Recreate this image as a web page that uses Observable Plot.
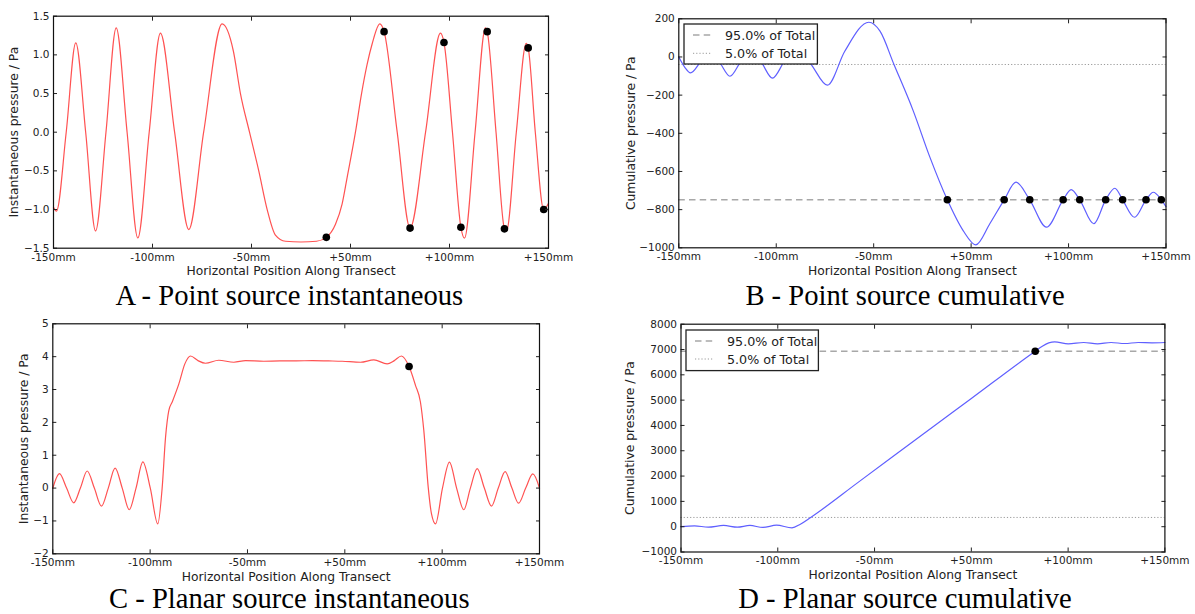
<!DOCTYPE html>
<html><head><meta charset="utf-8">
<script src="https://cdn.jsdelivr.net/npm/d3@7"></script>
<script src="https://cdn.jsdelivr.net/npm/@observablehq/plot@0.6"></script>
<style>
body{margin:0;background:#fff;}
#root{position:relative;width:1195px;height:614px;overflow:hidden;background:#fff;}
#root > svg{position:absolute;}
</style></head><body><div id="root"></div>
<script>
// ---- shared axis data ----
const xTicks = [-150, -90, -30, 30, 90, 150];
const xTickLabels = ["-150mm", "-100mm", "-50mm", "+50mm", "+100mm", "+150mm"];
const xTitle = "Horizontal Position Along Transect";
const captions = ["A - Point source instantaneous", "B - Point source cumulative", "C - Planar source instantaneous", "D - Planar source cumulative"];
const legendLabels = ["95.0% of Total", "5.0% of Total"];

// ---- A: point source instantaneous ----
const aX = [-150,-148.2,-142.3,-136.5,-130.5,-124.5,-118.2,-112.0,-105.4,-98.9,-92.0,-85.2,-76.6,-68.0,-59.0,-47.8,-41.0,-36.7,-31.2,-25.6,-20.5,-15.5,-9.4,0,9.4,15.35,20.9,24.9,28.0,33.0,36.7,40.1,43.1,47.8,50.35,58.3,66.1,75.5,84.5,86.65,91.8,96.9,99.1,105.5,111.8,112.85,118.2,123.3,124.5,130.5,136.5,137.7,142.0,147.1,150];
const aY = [-0.97,-1.02,0,1.155,0,-1.277,0,1.349,0,-1.368,0,1.28,0,-1.26,0,1.40,1.05,0.5,0,-0.5,-1.0,-1.33,-1.41,-1.42,-1.41,-1.36,-1.19,-0.93,-0.58,0,0.5,0.88,1.14,1.40,1.30,0,-1.24,0,1.28,1.16,0,-1.23,-1.37,0,1.35,1.30,0,-1.25,-1.28,0,1.15,1.09,0,-1.0,-0.92];
const markX = [15.35, 50.35, 66.1, 86.65, 96.9, 112.85, 123.3, 137.7, 147.1];
const markA = [-1.36, 1.30, -1.24, 1.16, -1.23, 1.30, -1.25, 1.09, -1.0];
const aTicks = [-1.5, -1.0, -0.5, 0, 0.5, 1.0, 1.5];

// ---- B: point source cumulative ----
const bX = [-150,-146.3,-142.8,-136.5,-130.5,-124.5,-118.5,-112,-105.4,-98.9,-92.3,-85.2,-76.6,-68,-58.5,-47.8,-33,-26.1,-17.5,-5.7,4.6,15.35,25.1,32.9,41.5,50.35,57.6,66.1,76.4,86.65,91.6,96.9,105.5,112.85,118.5,123.3,130.6,137.7,142.2,147.1,150];
const bY = [0,-54,-83,-24,35,-33,-101,-26,48,-31,-111,-26,59,-45,-148,30,182,135,-39.5,-281,-525,-748.6,-910,-984.5,-874,-748.6,-656,-748.6,-892,-748.6,-695,-748.6,-874,-748.6,-688,-748.6,-840,-748.6,-709,-748.6,-784];
const markB = [-748.6,-748.6,-748.6,-748.6,-748.6,-748.6,-748.6,-748.6,-748.6];
const bLevels = [-748.6, -39.4];
const bTicks = [-1000, -800, -600, -400, -200, 0, 200];

// ---- C: planar source instantaneous ----
const cX = [-150,-145.9,-141.5,-137.1,-133,-128.8,-124.4,-120.0,-115.8,-111.6,-107.2,-102.9,-98.7,-94.5,-89.9,-85.3,-82.6,-80.5,-78.5,-76.4,-72.3,-68.6,-65.1,-60.5,-55.9,-47.7,-38.4,-31.2,-20,-10,0,10,20,28.4,39.7,47.9,56.1,60.5,64.9,69.6,73.6,76.6,78.7,81.4,83.4,85.9,90.2,94.5,98.9,103.3,107.4,111.6,116,120.4,124.6,128.8,133,137.1,141.5,145.9,150];
const cY = [0,0.44,0,-0.45,0,0.52,0,-0.55,0,0.61,0,-0.66,0,0.80,0,-1.09,0,1.55,2.36,2.62,3.17,3.78,4.02,3.88,3.80,3.89,3.83,3.88,3.86,3.87,3.87,3.88,3.87,3.86,3.83,3.90,3.78,3.88,4.02,3.70,3.12,2.62,1.75,0.03,-0.78,-1.09,0,0.79,0,-0.66,0,0.59,0,-0.55,0,0.50,0,-0.46,0,0.43,0];
const cMarkX = [69.6];
const cMarkY = [3.70];
const cTicks = [-2, -1, 0, 1, 2, 3, 4, 5];

// ---- D: planar source cumulative ----
const dX = [-150,-141.6,-133.1,-123.6,-115.1,-107.3,-99.2,-90.8,-81.2,-76,-69.6,-40,0,30,69.6,74,78,81.7,90.1,99.7,108.2,116.6,125.1,133.5,142.0,150];
const dY = [0,34,-18,48,-18,48,-30,60,-45,100,365,1760,3650,5065,6933,7130,7260,7305,7225,7278,7225,7278,7238,7278,7265,7278];
const dMarkY = [6933];
const dLevels = [6933, 365];
const dTicks = [-1000, 0, 1000, 2000, 3000, 4000, 5000, 6000, 7000, 8000];

const root = document.getElementById("root");
const fmt1 = d3.format(".1f");
const fmt0 = d3.format("d");

function panel(o) {
  const idx = d3.range(o.xs.length);
  const midx = d3.range(o.mx.length);
  const marks = [];
  (o.levels || []).forEach((v, k) => {
    marks.push(Plot.ruleY([v], k === 0
      ? {stroke: "#a8a8a8", strokeWidth: 1.5, strokeDasharray: "6.5,4.2"}
      : {stroke: "#9a9a9a", strokeWidth: 1, strokeDasharray: "1.2,2"}));
  });
  marks.push(
    Plot.line(idx, {x: i => o.xs[i], y: i => o.ys[i], curve: "monotone-x", stroke: o.color, strokeWidth: 1.2}),
    Plot.dot(midx, {x: i => o.mx[i], y: i => o.my[i], r: 3.8, fill: "#000"}),
    Plot.axisX(xTicks, {anchor: "bottom", tickSize: -4, tickPadding: 9, tickFormat: d => xTickLabels[xTicks.indexOf(d)], label: null}),
    Plot.axisX(xTicks, {anchor: "top", tickSize: -4, tickFormat: () => "", label: null}),
    Plot.axisY(o.yTicks, {anchor: "left", tickSize: -4, tickPadding: 8, tickFormat: o.fmt, label: null}),
    Plot.axisY(o.yTicks, {anchor: "right", tickSize: -4, tickFormat: () => "", label: null}),
    Plot.text([xTitle], {frameAnchor: "bottom", dy: 22.8, dx: -10, textAnchor: "middle", lineAnchor: "middle", fontSize: 12.3, fill: "#222"}),
    Plot.text([o.yLabel], {frameAnchor: "left", dx: o.ylabDx, rotate: -90, textAnchor: "middle", lineAnchor: "middle", fontSize: 12.3, fill: "#222"}),
    Plot.frame({stroke: "#111", strokeWidth: 1.2})
  );
  const svg = Plot.plot({
    width: o.w, height: o.h,
    marginLeft: o.ml, marginRight: o.mr, marginTop: o.mt, marginBottom: o.mb,
    x: {domain: [-150, 150], label: null},
    y: {domain: o.yDomain, label: null},
    style: {fontFamily: "DejaVu Sans", fontSize: "10.5px", color: "#222", background: "transparent", overflow: "visible"},
    marks
  });
  svg.style.left = o.left + "px";
  svg.style.top = o.top + "px";
  root.appendChild(svg);
}

panel({left: 0, top: 0, w: 580, h: 290, ml: 53, mr: 32, mt: 15.7, mb: 42.3,
  xs: aX, ys: aY, mx: markX, my: markA, yDomain: [-1.5, 1.5], yTicks: aTicks, fmt: fmt1,
  yLabel: "Instantaneous pressure / Pa", ylabDx: -39, color: "#ff5252"});
panel({left: 600, top: 0, w: 595, h: 290, ml: 78.3, mr: 29.5, mt: 18.3, mb: 42.7,
  xs: bX, ys: bY, mx: markX, my: markB, yDomain: [-1000, 200], yTicks: bTicks, fmt: fmt0,
  yLabel: "Cumulative pressure / Pa", ylabDx: -48, color: "#5f5fff", levels: bLevels});
panel({left: 0, top: 305, w: 580, h: 290, ml: 52.3, mr: 41, mt: 18.3, mb: 41.7,
  xs: cX, ys: cY, mx: cMarkX, my: cMarkY, yDomain: [-2, 5], yTicks: cTicks, fmt: fmt0,
  yLabel: "Instantaneous pressure / Pa", ylabDx: -29, color: "#ff5252"});
panel({left: 600, top: 305, w: 595, h: 290, ml: 80.5, mr: 30.6, mt: 18.7, mb: 43.5,
  xs: dX, ys: dY, mx: cMarkX, my: dMarkY, yDomain: [-1000, 8000], yTicks: dTicks, fmt: fmt0,
  yLabel: "Cumulative pressure / Pa", ylabDx: -50.5, color: "#5f5fff", levels: dLevels});

function legend(left, top, w, h, rowY) {
  const svg = d3.create("svg").attr("width", w + 4).attr("height", h + 4)
    .style("left", (left - 2) + "px").style("top", (top - 2) + "px");
  svg.append("rect").attr("x", 2).attr("y", 2).attr("width", w).attr("height", h)
    .attr("fill", "#fff").attr("stroke", "#222").attr("stroke-width", 1.3);
  const styles = [{c: "#a8a8a8", w: 1.5, d: "6.5,4.2"}, {c: "#9a9a9a", w: 1, d: "1.2,2"}];
  legendLabels.forEach((t, k) => {
    svg.append("line").attr("x1", 11).attr("x2", 29.5).attr("y1", rowY[k] + 2).attr("y2", rowY[k] + 2)
      .attr("stroke", styles[k].c).attr("stroke-width", styles[k].w).attr("stroke-dasharray", styles[k].d);
    svg.append("text").attr("x", 43).attr("y", rowY[k] + 2).attr("dy", "0.36em")
      .attr("font-family", "DejaVu Sans").attr("font-size", 12.7).attr("fill", "#222").text(t);
  });
  root.appendChild(svg.node());
}
legend(684.3, 24, 133.4, 40, [11, 29.3]);
legend(686.3, 329.7, 132.4, 40.6, [11, 29]);

const cap = d3.create("svg").attr("width", 1195).attr("height", 614).style("left", "0px").style("top", "0px").style("pointer-events", "none");
[[289.3, 304.5], [905, 304.5], [289.3, 607.5], [905, 607.5]].forEach(([x, y], k) => {
  cap.append("text").attr("x", x).attr("y", y).attr("text-anchor", "middle")
    .attr("font-family", "Liberation Serif, Times New Roman, serif").attr("font-size", 28.6).attr("fill", "#000").text(captions[k]);
});
root.appendChild(cap.node());
</script></body></html>
